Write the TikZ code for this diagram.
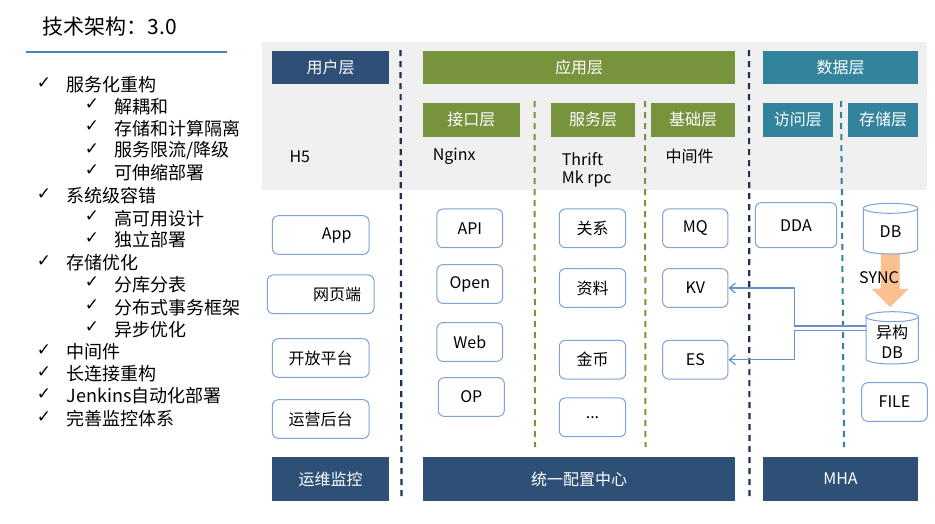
\documentclass[tikz,border=0pt]{standalone}
\usepackage{fontspec}
\setmainfont{Noto Sans CJK SC}
\newfontfamily\symf{DejaVu Sans}
\usetikzlibrary{arrows.meta}
\definecolor{navy}{HTML}{2E4F76}
\definecolor{olive}{HTML}{77933C}
\definecolor{tealc}{HTML}{31849B}
\definecolor{panel}{HTML}{F0F0F0}
\definecolor{boxln}{HTML}{7EA2D4}
\definecolor{connc}{HTML}{6A8FC9}
\definecolor{orng}{HTML}{FAC090}
\definecolor{navyd}{HTML}{1F3350}
\definecolor{tline}{HTML}{4F81BD}
\begin{document}
\begin{tikzpicture}[x=1pt,y=-1pt,
  bar/.style={rectangle, inner sep=0pt, text=white, font=\fontsize{16}{19}\selectfont},
  rbox/.style={rectangle, rounded corners=6pt, draw=boxln, line width=1pt, fill=white, inner sep=0pt, font=\fontsize{16}{19}\selectfont},
  plain/.style={inner sep=0pt, font=\fontsize{16}{19}\selectfont, anchor=west},
  chk/.style={inner sep=0pt, font=\symf\fontsize{17}{19}\selectfont},
  itm/.style={inner sep=0pt, anchor=west, font=\fontsize{18}{21}\selectfont},
  sepline/.style={line width=2.2pt, dash pattern=on 6pt off 5pt},
  cyl/.style={draw=boxln, line width=1pt, fill=white},
  conn/.style={draw=connc, line width=1.2pt, -{Straight Barb[length=6pt,width=10pt]}}
]
\useasboundingbox (0,0) rectangle (935,523);

% title
\node[inner sep=0pt, anchor=west, font=\fontsize{21}{24}\selectfont] (title) at (42.7,26.7) {技术架构：3.0};
\draw[tline, line width=2pt] (26,51.7) -- (226.7,51.7);

% list
\node[chk] (c1) at (44,83) {✓};   \node[itm] (t1) at (66.7,85) {服务化重构};
\node[chk] (c2) at (92,104.5) {✓}; \node[itm] (t2) at (114.3,106.5) {解耦和};
\node[chk] (c3) at (92,126.3) {✓}; \node[itm] (t3) at (114.3,128.3) {存储和计算隔离};
\node[chk] (c4) at (92,148.7) {✓}; \node[itm] (t4) at (114.3,150.7) {服务限流/降级};
\node[chk] (c5) at (92,170.3) {✓}; \node[itm] (t5) at (114.3,172.3) {可伸缩部署};
\node[chk] (c6) at (44,194) {✓};   \node[itm] (t6) at (66.7,196) {系统级容错};
\node[chk] (c7) at (92,216.3) {✓}; \node[itm] (t7) at (114.3,218.3) {高可用设计};
\node[chk] (c8) at (92,238) {✓};   \node[itm] (t8) at (114.3,240) {独立部署};
\node[chk] (c9) at (44,260.7) {✓}; \node[itm] (t9) at (66.7,262.7) {存储优化};
\node[chk] (c10) at (92,282.3) {✓}; \node[itm] (t10) at (114.3,284.3) {分库分表};
\node[chk] (c11) at (92,305.3) {✓}; \node[itm] (t11) at (114.3,307.3) {分布式事务框架};
\node[chk] (c12) at (92,327.3) {✓}; \node[itm] (t12) at (114.3,329.3) {异步优化};
\node[chk] (c13) at (44,349.7) {✓}; \node[itm] (t13) at (66.7,351.7) {中间件};
\node[chk] (c14) at (44,372) {✓};   \node[itm] (t14) at (66.7,374) {长连接重构};
\node[chk] (c15) at (44,394) {✓};   \node[itm] (t15) at (66.7,396) {Jenkins自动化部署};
\node[chk] (c16) at (44,416.7) {✓}; \node[itm] (t16) at (66.7,418.7) {完善监控体系};

% gray panel
\fill[panel] (262,42) rectangle (927,190);

% separators
\draw[navyd, sepline] (400.5,50) -- (401.5,497);
\draw[navyd, sepline] (749,50) -- (749.5,497);
\draw[olive, line width=2pt, dash pattern=on 6pt off 5pt] (534.5,101) -- (535,447);
\draw[olive, line width=2pt, dash pattern=on 6pt off 5pt] (645,101) -- (645.5,447);
\draw[tealc, line width=2pt, dash pattern=on 6pt off 5pt] (841,101) -- (844,447);

% headers
\node[bar, fill=navy, minimum width=117pt, minimum height=32.7pt] (user) at (330.5,67.3) {用户层};
\node[bar, fill=olive, minimum width=312pt, minimum height=32.7pt] (app) at (579,67.3) {应用层};
\node[bar, fill=tealc, minimum width=155pt, minimum height=32.7pt] (data) at (840.5,67.3) {数据层};
\node[bar, fill=olive, minimum width=96.7pt, minimum height=34.3pt] (iface) at (471.3,119.8) {接口层};
\node[bar, fill=olive, minimum width=84pt, minimum height=34.3pt] (svc) at (593,119.8) {服务层};
\node[bar, fill=olive, minimum width=84pt, minimum height=34.3pt] (base) at (693,119.8) {基础层};
\node[bar, fill=tealc, minimum width=69.7pt, minimum height=34.3pt] (acc) at (797.8,119.8) {访问层};
\node[bar, fill=tealc, minimum width=70pt, minimum height=34.3pt] (sto) at (883,119.8) {存储层};

% panel texts
\node[plain] (h5) at (289.3,156.7) {H5};
\node[plain] (nginx) at (432.7,156) {Nginx};
\node[plain] (thrift) at (561.7,159) {Thrift};
\node[plain] (mkrpc) at (561.7,179.3) {Mk rpc};
\node[plain] (mid) at (665.3,156.7) {中间件};

% user boxes
\node[rbox, minimum width=96.7pt, minimum height=38.6pt] (appb) at (320.7,235) {};
\node[plain, anchor=center] (appt) at (336.7,235) {App};
\node[rbox, minimum width=106.7pt, minimum height=38.7pt] (web1) at (320.7,294.3) {};
\node[plain, anchor=center] (web1t) at (337,294.3) {网页端};
\node[rbox, minimum width=96.7pt, minimum height=38.6pt] (open1) at (320.7,358) {开放平台};
\node[rbox, minimum width=96.7pt, minimum height=38.6pt] (ops) at (320.7,419) {运营后台};

% interface boxes
\node[rbox, minimum width=65.7pt, minimum height=38.7pt] (api) at (469.8,228.3) {API};
\node[rbox, minimum width=65.7pt, minimum height=38.7pt] (openb) at (469.8,284) {Open};
\node[rbox, minimum width=65.7pt, minimum height=38.7pt] (webb) at (469.8,342) {Web};
\node[rbox, minimum width=66pt, minimum height=38.7pt] (op) at (471.3,397) {OP};

% service boxes
\node[rbox, minimum width=66.4pt, minimum height=38.7pt] (rel) at (592.5,228.3) {关系};
\node[rbox, minimum width=66.4pt, minimum height=38.7pt] (prof) at (592.5,288) {资料};
\node[rbox, minimum width=66.4pt, minimum height=38.7pt] (coin) at (592.5,359.7) {金币};
\node[rbox, minimum width=66.4pt, minimum height=38.7pt] (more) at (592.5,417.3) {...};

% base boxes
\node[rbox, minimum width=65.3pt, minimum height=38.7pt] (mq) at (695.3,228.3) {MQ};
\node[rbox, minimum width=65.3pt, minimum height=38.7pt] (kv) at (695.3,288) {KV};
\node[rbox, minimum width=65.3pt, minimum height=38.7pt] (es) at (695.3,359.7) {ES};

% data boxes
\node[rbox, minimum width=81.4pt, minimum height=45pt] (dda) at (796,225.2) {DDA};
\node[rbox, minimum width=65.6pt, minimum height=38.6pt] (file) at (894.5,402) {FILE};

% sync arrow
\filldraw[fill=orng, draw=orng] (881,250) -- (899.3,250) -- (899.3,289) -- (908.3,289) -- (890,306.7) -- (872.3,289) -- (881,289) -- cycle;

% DB cylinder
\filldraw[cyl] (863.3,208.3) -- (863.3,249) arc[start angle=180, end angle=0, x radius=27.2, y radius=5] -- (917.7,208.3);
\filldraw[cyl] (890.5,208.3) ellipse[x radius=27.2, y radius=5];
\node[plain, anchor=center] (db) at (890.5,232) {DB};

\node[inner sep=0pt, font=\fontsize{16}{19}\selectfont] (sync) at (879,277.3) {SYNC};

% hetero DB cylinder
\filldraw[cyl] (866,316.7) -- (866,359) arc[start angle=180, end angle=0, x radius=26.2, y radius=5] -- (918.3,316.7);
\filldraw[cyl] (892.2,316.7) ellipse[x radius=26.2, y radius=5];
\node[inner sep=0pt, minimum width=52pt, minimum height=40pt, align=center, font=\fontsize{16}{20}\selectfont] (ydb) at (892.2,341.8) {异构\\DB};

% connectors
\draw[conn] ([yshift=15.8pt]ydb.west) -- ++(-71.7,0) |- (kv.east);
\draw[conn] ([yshift=11.1pt]ydb.west) -- ++(-71.7,0) |- (es.east);

% bottom bars
\node[bar, fill=navy, minimum width=117pt, minimum height=44pt] (mon) at (330.5,479) {运维监控};
\node[bar, fill=navy, minimum width=312pt, minimum height=44pt] (cfg) at (579,479) {统一配置中心};
\node[bar, fill=navy, minimum width=155pt, minimum height=44pt] (mha) at (840.5,479) {MHA};
\end{tikzpicture}
\end{document}
